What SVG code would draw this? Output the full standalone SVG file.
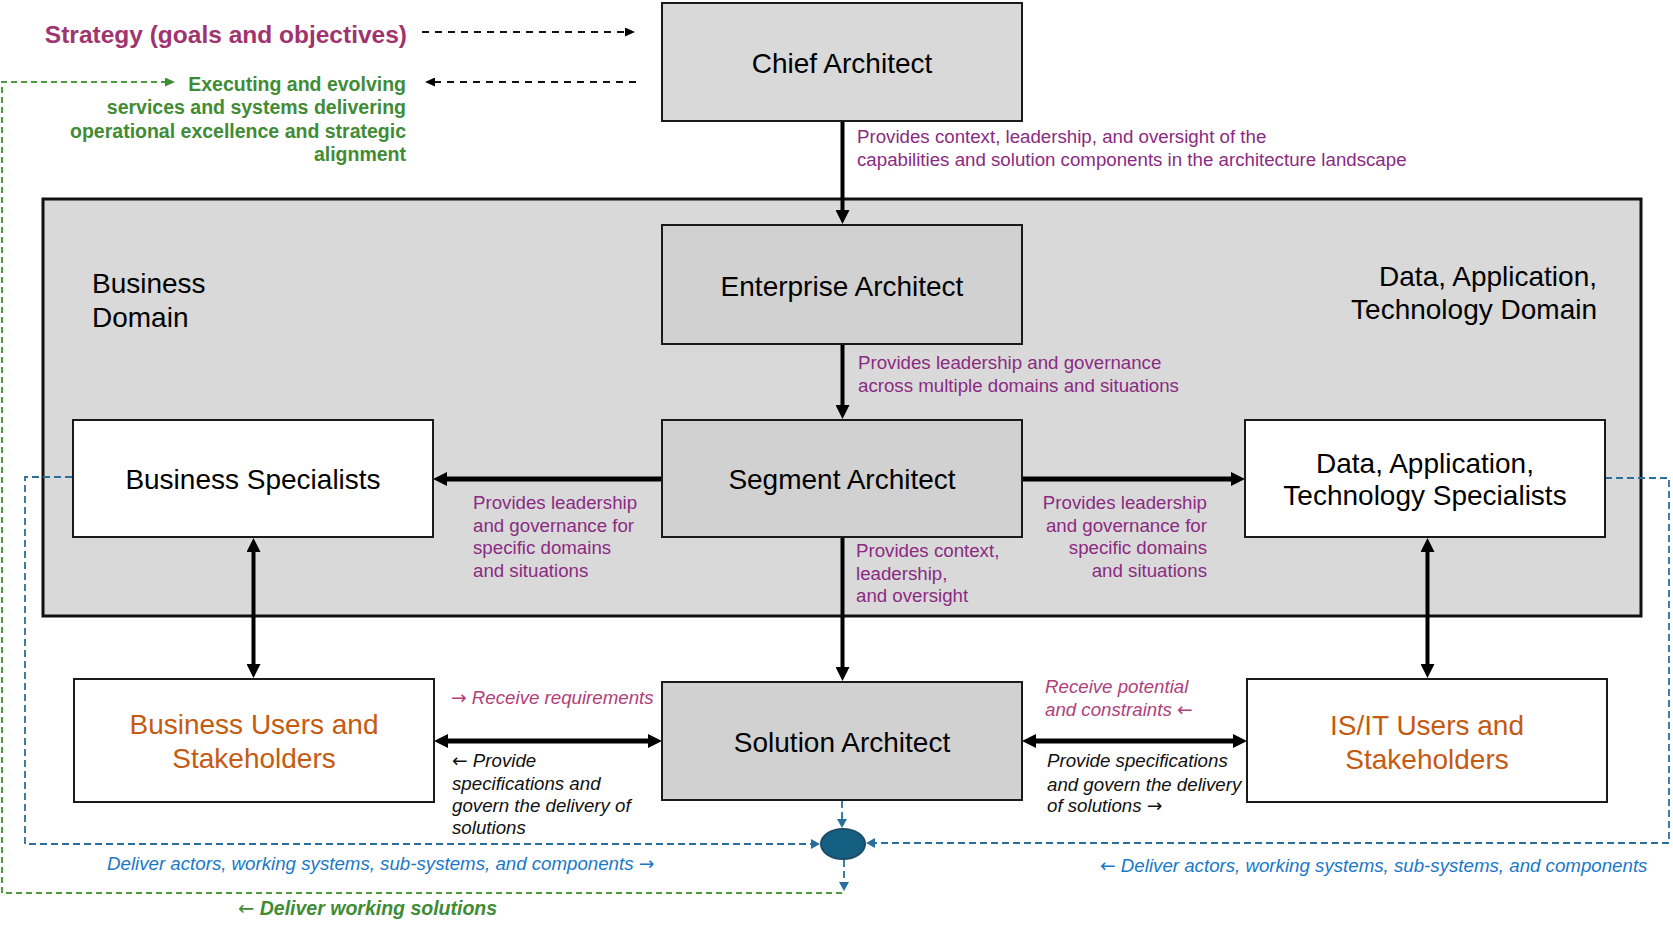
<svg xmlns="http://www.w3.org/2000/svg" width="1673" height="937" viewBox="0 0 1673 937">
<style>
text{font-family:"Liberation Sans",Arial,Helvetica,sans-serif}
.ar{font-family:"DejaVu Sans",sans-serif;font-style:normal;font-weight:normal}
.box{stroke:#1a1a1a;stroke-width:2}
.arch{fill:#d1d1d1}
.wh{fill:#ffffff}
.big{font-size:28px;fill:#000}
.org{font-size:28px;fill:#c55a11}
.lbl{font-size:18.7px;fill:#8b2a82}
.pink{font-size:18.7px;fill:#b0407a;font-style:italic}
.blk{font-size:18.7px;fill:#111;font-style:italic}
.blu{font-size:18.7px;fill:#1a78c8;font-style:italic}
.grn{font-size:19.5px;fill:#3f8c34;font-weight:bold}
.solid{stroke:#000;fill:none}
.bdash{stroke:#111;stroke-width:1.8;stroke-dasharray:7 6;fill:none}
.bluedash{stroke:#2a6f9c;stroke-width:1.8;stroke-dasharray:7 4;fill:none}
.grndash{stroke:#4c9a3c;stroke-width:2;stroke-dasharray:6 4;fill:none}
</style>
<defs>
<marker id="ah" markerUnits="userSpaceOnUse" markerWidth="15" markerHeight="14" refX="1" refY="7" orient="auto-start-reverse"><path d="M0,0 L14,7 L0,14 z" fill="#000"/></marker>
<marker id="sm" markerUnits="userSpaceOnUse" markerWidth="11" markerHeight="9" refX="1" refY="4.5" orient="auto"><path d="M0,0 L10,4.5 L0,9 z" fill="#000"/></marker>
<marker id="gm" markerUnits="userSpaceOnUse" markerWidth="11" markerHeight="9" refX="1" refY="4.5" orient="auto"><path d="M0,0 L10,4.5 L0,9 z" fill="#3f8c34"/></marker>
<marker id="bm" markerUnits="userSpaceOnUse" markerWidth="10" markerHeight="10" refX="1" refY="5" orient="auto"><path d="M0,0 L9,5 L0,10 z" fill="#2a6f9c"/></marker>
</defs>
<rect width="1673" height="937" fill="#ffffff"/>

<g id="domain-container">
<rect x="43" y="199" width="1598" height="417" fill="#d9d9d9" stroke="#111" stroke-width="3"/>
<text class="big" x="92" y="293">Business</text>
<text class="big" x="92" y="327">Domain</text>
<text class="big" x="1597" y="286" text-anchor="end">Data, Application,</text>
<text class="big" x="1597" y="319" text-anchor="end">Technology Domain</text>
</g>

<g id="connectors">
<line class="bdash" x1="422" y1="32" x2="626" y2="32" marker-end="url(#sm)"/>
<line class="bdash" x1="636" y1="82" x2="434" y2="82" marker-end="url(#sm)"/>
<path class="grndash" d="M842,893 H2 V82 H166" marker-end="url(#gm)"/>
<path class="bluedash" d="M72,477 H25 V844 H812" marker-end="url(#bm)"/>
<path class="bluedash" d="M1605,478 H1669 V843 H874" marker-end="url(#bm)"/>
<line class="bluedash" x1="842" y1="801" x2="842" y2="820" marker-end="url(#bm)"/>
<line class="bluedash" x1="844" y1="860" x2="844" y2="883" marker-end="url(#bm)"/>
<line class="solid" stroke-width="4" x1="842.5" y1="121" x2="842.5" y2="211" marker-end="url(#ah)"/>
<line class="solid" stroke-width="4" x1="842.5" y1="344" x2="842.5" y2="406" marker-end="url(#ah)"/>
<line class="solid" stroke-width="4" x1="842.5" y1="537" x2="842.5" y2="668" marker-end="url(#ah)"/>
<line class="solid" stroke-width="5" x1="662" y1="479" x2="446" y2="479" marker-end="url(#ah)"/>
<line class="solid" stroke-width="5" x1="1022" y1="479" x2="1232" y2="479" marker-end="url(#ah)"/>
<line class="solid" stroke-width="4" x1="253.5" y1="551" x2="253.5" y2="665" marker-start="url(#ah)" marker-end="url(#ah)"/>
<line class="solid" stroke-width="4" x1="1427.5" y1="551" x2="1427.5" y2="665" marker-start="url(#ah)" marker-end="url(#ah)"/>
<line class="solid" stroke-width="5" x1="447" y1="741" x2="649" y2="741" marker-start="url(#ah)" marker-end="url(#ah)"/>
<line class="solid" stroke-width="5" x1="1035" y1="741" x2="1234" y2="741" marker-start="url(#ah)" marker-end="url(#ah)"/>
<ellipse cx="843" cy="844" rx="22" ry="15" fill="#155f82" stroke="#1d4c6a" stroke-width="2"/>
</g>

<g id="labels">
<text x="407" y="43" text-anchor="end" style="font-size:24.5px;font-weight:bold;fill:#a0346e">Strategy (goals and objectives)</text>
<text class="grn" text-anchor="end"><tspan x="406" y="91">Executing and evolving</tspan><tspan x="406" y="114">services and systems delivering</tspan><tspan x="406" y="137.5">operational excellence and strategic</tspan><tspan x="406" y="161">alignment</tspan></text>
<text class="lbl"><tspan x="857" y="143">Provides context, leadership, and oversight of the</tspan><tspan x="857" y="166">capabilities and solution components in the architecture landscape</tspan></text>
<text class="lbl"><tspan x="858" y="369">Provides leadership and governance</tspan><tspan x="858" y="392">across multiple domains and situations</tspan></text>
<text class="lbl"><tspan x="473" y="509">Provides leadership</tspan><tspan x="473" y="532">and governance for</tspan><tspan x="473" y="554">specific domains</tspan><tspan x="473" y="577">and situations</tspan></text>
<text class="lbl" text-anchor="end"><tspan x="1207" y="509">Provides leadership</tspan><tspan x="1207" y="532">and governance for</tspan><tspan x="1207" y="554">specific domains</tspan><tspan x="1207" y="577">and situations</tspan></text>
<text class="lbl"><tspan x="856" y="557">Provides context,</tspan><tspan x="856" y="580">leadership,</tspan><tspan x="856" y="602">and oversight</tspan></text>
<text class="pink" x="451" y="704"><tspan class="ar">→</tspan> Receive requirements</text>
<text class="blk"><tspan x="452" y="767"><tspan class="ar">←</tspan>  Provide</tspan><tspan x="452" y="790">specifications and</tspan><tspan x="452" y="812">govern the delivery of</tspan><tspan x="452" y="834">solutions</tspan></text>
<text class="pink"><tspan x="1045" y="693">Receive potential</tspan><tspan x="1045" y="716">and constraints <tspan class="ar">←</tspan></tspan></text>
<text class="blk"><tspan x="1047" y="767">Provide specifications</tspan><tspan x="1047" y="791">and govern the delivery</tspan><tspan x="1047" y="812">of solutions  <tspan class="ar">→</tspan></tspan></text>
<text class="blu" x="107" y="870">Deliver actors, working systems, sub-systems, and components <tspan class="ar">→</tspan></text>
<text class="blu" x="1100" y="872"><tspan class="ar">←</tspan> Deliver actors, working systems, sub-systems, and components</text>
<text class="grn" x="238" y="915" style="font-style:italic"><tspan class="ar">←</tspan>  Deliver working solutions</text>
</g>

<g id="chief-architect">
<rect class="box" x="662" y="3" width="360" height="118" fill="#d9d9d9"/>
<text class="big" x="842" y="73" text-anchor="middle">Chief Architect</text>
</g>
<g id="enterprise-architect">
<rect class="box arch" x="662" y="225" width="360" height="119"/>
<text class="big" x="842" y="296" text-anchor="middle">Enterprise Architect</text>
</g>
<g id="segment-architect">
<rect class="box arch" x="662" y="420" width="360" height="117"/>
<text class="big" x="842" y="489" text-anchor="middle">Segment Architect</text>
</g>
<g id="business-specialists">
<rect class="box wh" x="73" y="420" width="360" height="117"/>
<text class="big" x="253" y="489" text-anchor="middle">Business Specialists</text>
</g>
<g id="data-specialists">
<rect class="box wh" x="1245" y="420" width="360" height="117"/>
<text class="big" x="1425" y="473" text-anchor="middle">Data, Application,</text>
<text class="big" x="1425" y="505" text-anchor="middle">Technology Specialists</text>
</g>
<g id="solution-architect">
<rect class="box arch" x="662" y="682" width="360" height="118"/>
<text class="big" x="842" y="752" text-anchor="middle">Solution Architect</text>
</g>
<g id="business-users">
<rect class="box wh" x="74" y="679" width="360" height="123"/>
<text class="org" x="254" y="734" text-anchor="middle">Business Users and</text>
<text class="org" x="254" y="768" text-anchor="middle">Stakeholders</text>
</g>
<g id="isit-users">
<rect class="box wh" x="1247" y="679" width="360" height="123"/>
<text class="org" x="1427" y="735" text-anchor="middle">IS/IT Users and</text>
<text class="org" x="1427" y="769" text-anchor="middle">Stakeholders</text>
</g>
</svg>
